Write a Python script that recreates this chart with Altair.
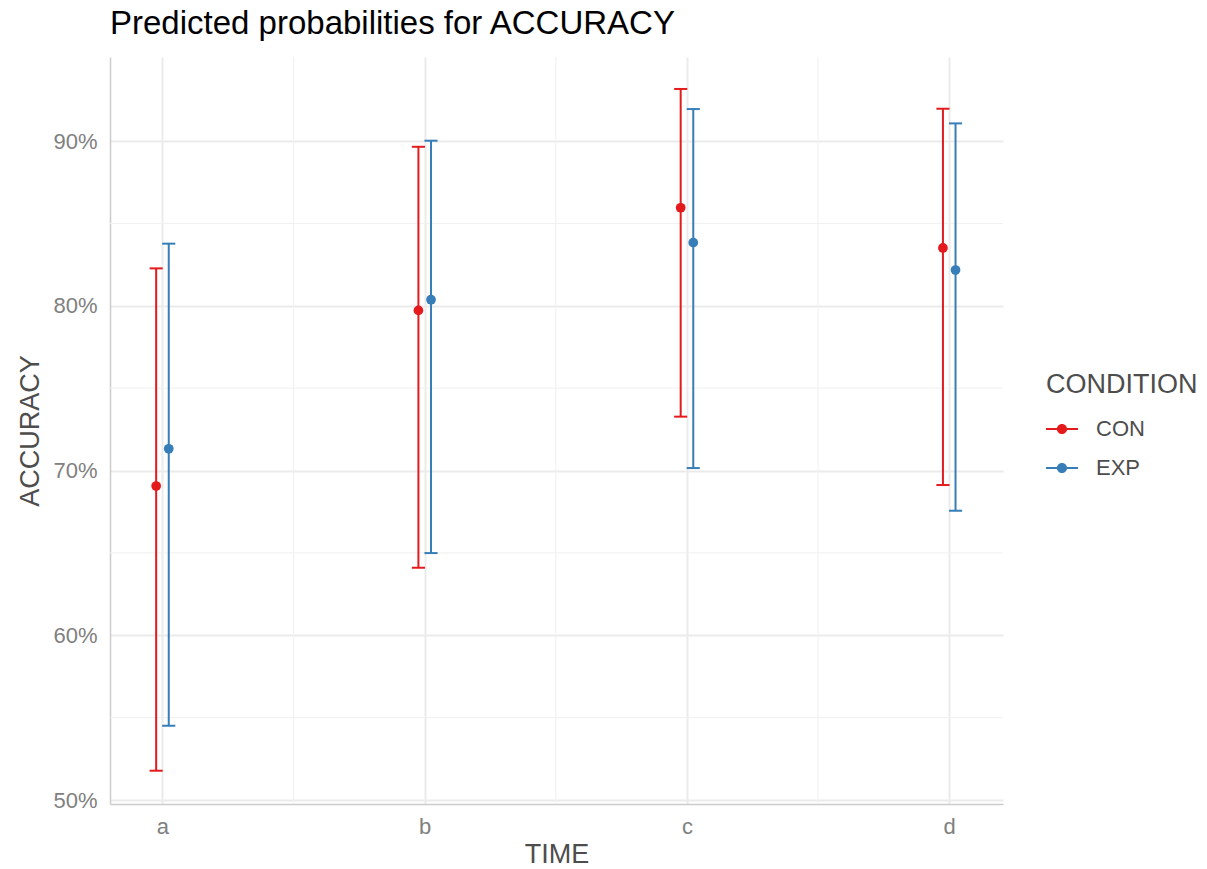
import altair as alt
import pandas as pd

times = ["a", "b", "c", "d"]
conditions = ["CON", "EXP"]
con_pred = [69.06, 79.72, 85.95, 83.51]
con_lo = [51.78, 64.10, 73.27, 69.12]
con_hi = [82.27, 89.65, 93.16, 91.96]
exp_pred = [71.32, 80.37, 83.83, 82.17]
exp_lo = [54.51, 64.99, 70.15, 67.56]
exp_hi = [83.77, 90.02, 91.94, 91.07]
y_ticks = [50, 60, 70, 80, 90]
y_minor = [55, 65, 75, 85]
x_ticks = [1, 2, 3, 4]
x_minor = [1.5, 2.5, 3.5]
colors = ["#E41A1C", "#377EB8"]

rows = []
for i, t in enumerate(times):
    rows.append(dict(TIME=t, CONDITION="CON", pred=con_pred[i], lo=con_lo[i], hi=con_hi[i]))
    rows.append(dict(TIME=t, CONDITION="EXP", pred=exp_pred[i], lo=exp_lo[i], hi=exp_hi[i]))
df = pd.DataFrame(rows)

FONT = "Liberation Sans"
time_list = "[" + ",".join("'%s'" % t for t in times) + "]"

xscale = alt.Scale(domain=[0.8, 4.205], nice=False, zero=False)
yscale = alt.Scale(domain=[49.76, 95.1], nice=False, zero=False)

x_axis = alt.Axis(
    title="TIME", values=x_ticks, labelExpr=time_list + "[datum.value-1]",
    grid=True, gridColor="#ebebeb", gridWidth=2,
    labelFontSize=22, labelColor="#808080", labelPadding=12, labelFont=FONT,
    titleFontSize=27, titleColor="#4d4d4d", titleFont=FONT, titleFontWeight="normal", titlePadding=4,
    tickSize=0, domainColor="#cccccc", domainWidth=1.5, labelAngle=0,
)
y_axis = alt.Axis(
    title="ACCURACY", values=y_ticks, labelExpr="datum.value + '%'",
    grid=True, gridColor="#ebebeb", gridWidth=2,
    labelFontSize=22, labelColor="#808080", labelPadding=13, labelFont=FONT,
    titleFontSize=27, titleColor="#4d4d4d", titleFont=FONT, titleFontWeight="normal", titlePadding=8,
    tickSize=0, domainColor="#cccccc", domainWidth=1.5,
)

legend_path = ("M-1,-0.07H-0.3V0.07H-1Z M0.3,-0.07H1V0.07H0.3Z "
               "M0.32,0A0.32,0.32 0 1,1 -0.32,0A0.32,0.32 0 1,1 0.32,0Z")

color = alt.Color(
    "CONDITION:N",
    scale=alt.Scale(domain=conditions, range=colors),
    legend=alt.Legend(
        title="CONDITION", orient="none", legendX=936, legendY=315,
        titleFontSize=27, titleColor="#4d4d4d", titleFont=FONT, titleFontWeight="normal",
        titlePadding=14,
        labelFontSize=22, labelColor="#4d4d4d", labelFont=FONT, labelOffset=18,
        symbolType=legend_path, symbolSize=1024, symbolStrokeWidth=0, symbolOpacity=1,
        rowPadding=12, padding=0,
    ),
)

base = alt.Chart(df).transform_calculate(
    xpos="indexof(" + time_list + ", datum.TIME) + 1 + (datum.CONDITION == 'CON' ? -0.024 : 0.024)"
).transform_calculate(
    xl="datum.xpos - 0.025", xr="datum.xpos + 0.025"
)

hminor = alt.Chart(pd.DataFrame({"v": y_minor})).mark_rule(color="#f0f0f0", strokeWidth=1).encode(
    y=alt.Y("v:Q", scale=yscale, axis=y_axis)
)
vminor = alt.Chart(pd.DataFrame({"v": x_minor})).mark_rule(color="#f0f0f0", strokeWidth=1).encode(
    x=alt.X("v:Q", scale=xscale, axis=x_axis)
)

points = base.mark_circle(size=95, opacity=1).encode(
    x=alt.X("xpos:Q", scale=xscale, axis=x_axis),
    y=alt.Y("pred:Q", scale=yscale, axis=y_axis),
    color=color,
)
bars = base.mark_rule(strokeWidth=2).encode(
    x=alt.X("xpos:Q", scale=xscale, axis=x_axis),
    y=alt.Y("lo:Q", scale=yscale, axis=y_axis),
    y2="hi:Q",
    color=color,
)
cap_hi = base.mark_rule(strokeWidth=2).encode(
    x=alt.X("xl:Q", scale=xscale, axis=x_axis), x2="xr:Q",
    y=alt.Y("hi:Q", scale=yscale, axis=y_axis),
    color=color,
)
cap_lo = base.mark_rule(strokeWidth=2).encode(
    x=alt.X("xl:Q", scale=xscale, axis=x_axis), x2="xr:Q",
    y=alt.Y("lo:Q", scale=yscale, axis=y_axis),
    color=color,
)

chart = alt.layer(hminor, vminor, points, bars, cap_hi, cap_lo).properties(
    width=893, height=747,
    title=alt.Title("Predicted probabilities for ACCURACY", anchor="start", frame="group",
                    fontSize=33, font=FONT, color="black", fontWeight="normal", offset=16),
    autosize=alt.AutoSizeParams(type="none"),
    padding={"left": 110, "top": 57, "right": 204, "bottom": 65},
    background="white",
).configure_view(stroke=None)

chart.save("out.html", embed_options={"renderer": "svg", "actions": False})
